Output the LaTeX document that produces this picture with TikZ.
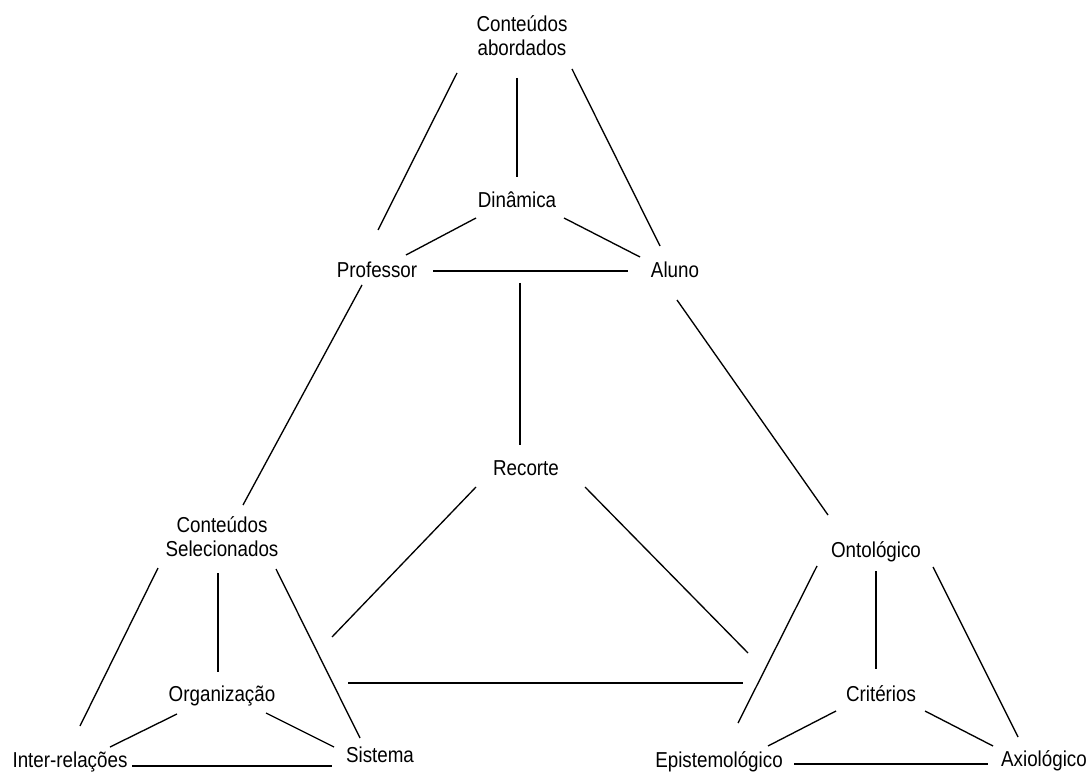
\documentclass[tikz,border=0pt]{standalone}
\usepackage{fontspec}
\newfontfamily\diagfont{Liberation Sans}[FakeStretch=0.87]
\usepackage{tikz}
\tikzset{concept/.style={inner sep=0pt,
        font=\diagfont\fontsize{16.2pt}{18pt}\selectfont,
        text height=11.8pt, text depth=0pt},
    pair/.style={inner sep=0pt, align=center,
        font=\diagfont\fontsize{16.2pt}{18pt}\selectfont},
    link/.style={draw, line width=1pt}}

\begin{document}
\begin{tikzpicture}[x=0.75pt, y=-0.75pt]
    \fill[white] (0,0) rectangle (1089,773);
    \useasboundingbox (0,0) rectangle (1089,773);
    % upper triangle
    \node[pair] (abord) at (522,36) {Conteúdos\\abordados};
    \node[concept] (din) at (517,200) {Dinâmica};
    \node[concept] (prof) at (377,270) {Professor};
    \node[concept] (aluno) at (675,270) {Aluno};
    \node[concept] (recorte) at (526,468) {Recorte};
    % left triangle
    \node[pair] (csel) at (222,537) {Conteúdos\\Selecionados};
    \node[concept] (org) at (222,694) {Organização};
    \node[concept] (inter) at (70,760) {Inter-relações};
    \node[concept] (sis) at (380,755) {Sistema};
    % right triangle
    \node[concept] (onto) at (876,550) {Ontológico};
    \node[concept] (crit) at (881,694) {Critérios};
    \node[concept] (epis) at (719,760) {Epistemológico};
    \node[concept] (axio) at (1044,759) {Axiológico};

    \path[link] ([shift={(-65,37)}]abord.center) -- ([shift={(1,-40)}]prof.center);
    \path[link] ([shift={(-5,42)}]abord.center) -- ([shift={(0,-23)}]din.center);
    \path[link] ([shift={(50,33)}]abord.center) -- ([shift={(-15,-24)}]aluno.center);
    \path[link] ([shift={(-41,18)}]din.center) -- ([shift={(29,-15)}]prof.center);
    \path[link] ([shift={(47,18)}]din.center) -- ([shift={(-35,-13)}]aluno.center);
    \path[link] ([shift={(56,1)}]prof.center) -- ([shift={(-47,1)}]aluno.center);
    \path[link] ([shift={(143,13)}]prof.center) -- ([shift={(-6,-23)}]recorte.center);
    \path[link] ([shift={(-15,15)}]prof.center) -- ([shift={(21,-32)}]csel.center);
    \path[link] ([shift={(2,30)}]aluno.center) -- ([shift={(-48,-35)}]onto.center);
    \path[link] ([shift={(-50,19)}]recorte.center) -- ([shift={(110,-57)}]org.center);
    \path[link] ([shift={(59,19)}]recorte.center) -- ([shift={(-133,-41)}]crit.center);
    \path[link] ([shift={(126,-11)}]org.center) -- ([shift={(-138,-11)}]crit.center);

    \path[link] ([shift={(-64,31)}]csel.center) -- ([shift={(10,-34)}]inter.center);
    \path[link] ([shift={(-4,36)}]csel.center) -- ([shift={(-4,-22)}]org.center);
    \path[link] ([shift={(54,32)}]csel.center) -- ([shift={(-20,-17)}]sis.center);
    \path[link] ([shift={(-45,20)}]org.center) -- ([shift={(40,-13)}]inter.center);
    \path[link] ([shift={(44,19)}]org.center) -- ([shift={(-46,-8)}]sis.center);
    \path[link] ([shift={(62,6)}]inter.center) -- ([shift={(-48,11)}]sis.center);

    \path[link] ([shift={(-59,16)}]onto.center) -- ([shift={(19,-37)}]epis.center);
    \path[link] ([shift={(0,21)}]onto.center) -- ([shift={(-5,-25)}]crit.center);
    \path[link] ([shift={(57,17)}]onto.center) -- ([shift={(-26,-22)}]axio.center);
    \path[link] ([shift={(-45,17)}]crit.center) -- ([shift={(49,-14)}]epis.center);
    \path[link] ([shift={(44,17)}]crit.center) -- ([shift={(-51,-13)}]axio.center);
    \path[link] ([shift={(75,4)}]epis.center) -- ([shift={(-56,5)}]axio.center);
\end{tikzpicture}
\end{document}
